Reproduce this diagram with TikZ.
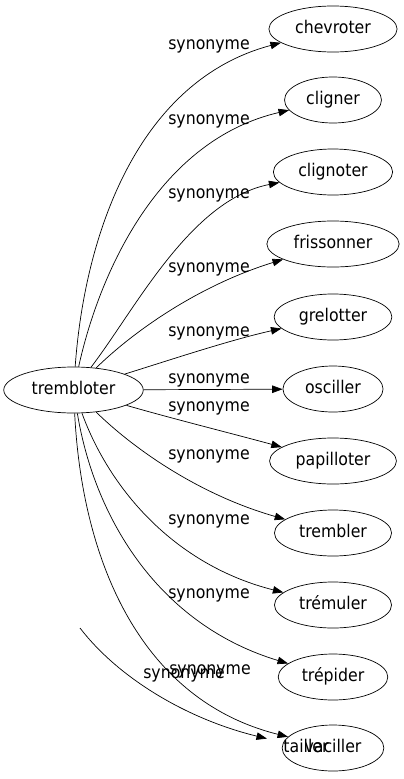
\documentclass[tikz,border=0pt]{standalone}
\usepackage{fontspec}
\setmainfont{DejaVu Sans Condensed}
\usetikzlibrary{arrows.meta,shapes.geometric}
\begin{document}
\begin{tikzpicture}[x=1pt,y=-1pt,
  every node/.style={font=\fontsize{17.5}{20}\selectfont},
  word/.style={ellipse,draw,line width=0.7pt,minimum height=46pt,inner xsep=7.5pt,inner ysep=1pt,text height=12.5pt,text depth=4pt},
  ghost/.style={ellipse,minimum height=46pt,inner xsep=7.5pt,inner ysep=1pt,text height=12.5pt,text depth=4pt},
  lbl/.style={inner sep=0pt,text height=12.5pt,text depth=4pt},
  edge/.style={line width=0.7pt,-{Triangle[length=10.5pt,width=7.5pt]}}]
\useasboundingbox (0,0) rectangle (404,779);
\node[word] (t) at (73.5,390) {trembloter};
\node[word] (n1) at (333,29) {chevroter};
\node[word] (n2) at (333,100) {cligner};
\node[word] (n3) at (333,172) {clignoter};
\node[word] (n4) at (333,244) {frissonner};
\node[word] (n5) at (333,317) {grelotter};
\node[word] (n6) at (333,389) {osciller};
\node[word] (n7) at (333,461) {papilloter};
\node[word] (n8) at (333,533) {trembler};
\node[word] (n9) at (333,605) {trémuler};
\node[word] (n10) at (333,677) {trépider};
\node[word] (n11) at (333,748) {vaciller};
\node[ghost] (n12) at (306,748) {tailler};
\coordinate (s12) at (80,628);
\node[lbl] (l1) at (209,45) {synonyme};
\node[lbl] (l2) at (209,120) {synonyme};
\node[lbl] (l3) at (209,194) {synonyme};
\node[lbl] (l4) at (209,268) {synonyme};
\node[lbl] (l5) at (209,332) {synonyme};
\node[lbl] (l6) at (209,379) {synonyme};
\node[lbl] (l7) at (209,407) {synonyme};
\node[lbl] (l8) at (209,455) {synonyme};
\node[lbl] (l9) at (209,520) {synonyme};
\node[lbl] (l10) at (209,594) {synonyme};
\node[lbl] (l11) at (210,670) {synonyme};
\node[lbl] (l12) at (184,674) {synonyme};
\draw[edge] (t) .. controls (85,230) and (140,80) .. (n1);
\draw[edge] (t) .. controls (100,270) and (160,140) .. (n2);
\draw[edge] (t) .. controls (135,310) and (190,200) .. (n3);
\draw[edge] (t) .. controls (135,330) and (200,285) .. (n4);
\draw[edge] (t) .. controls (170,360) and (230,340) .. (n5);
\draw[edge] (t) -- (n6);
\draw[edge] (t) .. controls (170,418) and (230,433) .. (n7);
\draw[edge] (t) .. controls (135,450) and (200,495) .. (n8);
\draw[edge] (t) .. controls (110,490) and (175,565) .. (n9);
\draw[edge] (t) .. controls (95,520) and (160,625) .. (n10);
\draw[edge] (t) .. controls (82,560) and (140,700) .. (n11);
\draw[edge] (s12) .. controls (120,680) and (190,720) .. (n12);
\end{tikzpicture}
\end{document}
